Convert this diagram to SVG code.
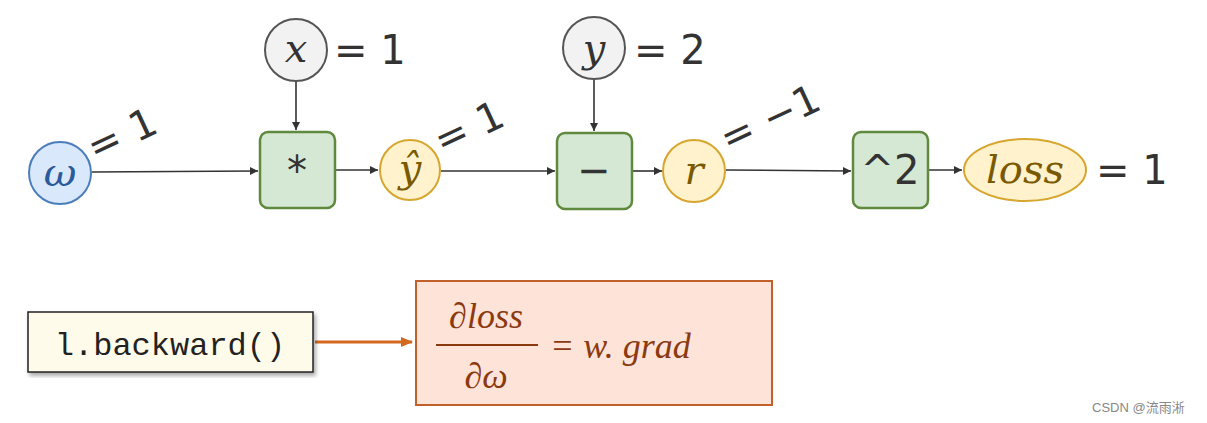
<svg xmlns="http://www.w3.org/2000/svg" width="1207" height="423" viewBox="0 0 1207 423">
<defs>
<marker id="a" markerWidth="10" markerHeight="10" refX="9" refY="5" orient="auto" markerUnits="userSpaceOnUse"><path d="M1,1 L9,5 L1,9 Z" fill="#333"/></marker>
<marker id="o" markerWidth="14" markerHeight="14" refX="12" refY="7" orient="auto" markerUnits="userSpaceOnUse"><path d="M1,2 L13,7 L1,12 Z" fill="#d2691e"/></marker>
<filter id="sh"><feDropShadow dx="2" dy="3" stdDeviation="2" flood-opacity="0.35"/></filter>
</defs>
<style>
.m{font-family:"DejaVu Serif","Liberation Serif",serif;font-style:italic;font-size:40px;fill:#333;text-anchor:middle}
.e{font-family:"DejaVu Sans","Liberation Sans",sans-serif;font-size:40px;fill:#333}
.op{fill:#d5e8d4;stroke:#5f8a3e;stroke-width:2.5}
.yel{fill:#fff2cc;stroke:#d6a62e;stroke-width:2}
.gray{fill:#f2f2f2;stroke:#555;stroke-width:2}
.c{stroke:#333;stroke-width:1.6;fill:none;marker-end:url(#a)}
.b{font-family:"Liberation Serif",serif;font-style:italic;font-size:36px;fill:#8b3a10}
</style>
<rect width="1207" height="423" fill="#fff"/>
<g id="connectors">
<line class="c" x1="92" y1="172" x2="258" y2="171"/>
<line class="c" x1="296" y1="81" x2="296" y2="130"/>
<line class="c" x1="336" y1="170" x2="378" y2="170"/>
<line class="c" x1="441" y1="171" x2="555" y2="171"/>
<line class="c" x1="594" y1="79" x2="594" y2="131"/>
<line class="c" x1="633" y1="171" x2="662" y2="171"/>
<line class="c" x1="726" y1="170" x2="851" y2="171"/>
<line class="c" x1="929" y1="170" x2="962" y2="170"/>
<line x1="315" y1="342" x2="412" y2="342" stroke="#d2691e" stroke-width="3" marker-end="url(#o)"/>
</g>
<g id="w"><circle cx="60" cy="173" r="31" fill="#dae8fc" stroke="#4a7ebb" stroke-width="2"/><text class="m" x="60" y="186" fill="#2a5a9a" style="fill:#2a5a9a">ω</text></g>
<text class="e" transform="translate(95,162) rotate(-25)">= 1</text>
<g id="x"><circle class="gray" cx="296" cy="50" r="31"/><text class="m" x="296" y="62">x</text></g>
<text class="e" x="334" y="64">= 1</text>
<g id="mul"><rect class="op" x="260" y="132" width="75" height="76" rx="8"/><text class="e" x="297" y="185" text-anchor="middle">*</text></g>
<g id="yhat"><circle class="yel" cx="410" cy="170" r="30"/><text class="m" x="410" y="182" style="fill:#7a5a00">ŷ</text></g>
<text class="e" transform="translate(442,155) rotate(-25)">= 1</text>
<g id="y"><circle class="gray" cx="594" cy="48" r="31"/><text class="m" x="594" y="62">y</text></g>
<text class="e" x="634" y="64">= 2</text>
<g id="sub"><rect class="op" x="557" y="133" width="75" height="76" rx="8"/><text class="e" x="594" y="184" text-anchor="middle">−</text></g>
<g id="r"><circle class="yel" cx="694" cy="171" r="31"/><text class="m" x="694" y="184" style="fill:#7a5a00">r</text></g>
<text class="e" transform="translate(728,153) rotate(-25)">= −1</text>
<g id="sq"><rect class="op" x="853" y="132" width="75" height="76" rx="8"/><text class="e" x="890" y="184" text-anchor="middle">^2</text></g>
<g id="loss"><ellipse class="yel" cx="1025" cy="170" rx="61" ry="31"/><text class="m" x="1025" y="183" style="fill:#7a5a00">loss</text></g>
<text class="e" x="1096" y="184">= 1</text>
<g id="backward"><rect x="28" y="312" width="285" height="60" fill="#fffbea" stroke="#222" stroke-width="1.5" filter="url(#sh)"/><text x="170" y="355" text-anchor="middle" font-family="Liberation Mono,DejaVu Sans Mono,monospace" font-size="32" fill="#222">l.backward()</text></g>
<g id="grad"><rect x="416" y="281" width="356" height="124" fill="#fde3d8" stroke="#c0602a" stroke-width="2"/>
<text class="b" x="486" y="328" text-anchor="middle">∂loss</text>
<line x1="436" y1="345" x2="538" y2="345" stroke="#8b3a10" stroke-width="2"/>
<text class="b" x="486" y="388" text-anchor="middle">∂ω</text>
<text class="b" x="550" y="358">= w. grad</text></g>
<text x="1092" y="412" font-family="Liberation Sans,Noto Sans CJK SC,sans-serif" font-size="13" fill="#888">CSDN @流雨淅</text>
</svg>
